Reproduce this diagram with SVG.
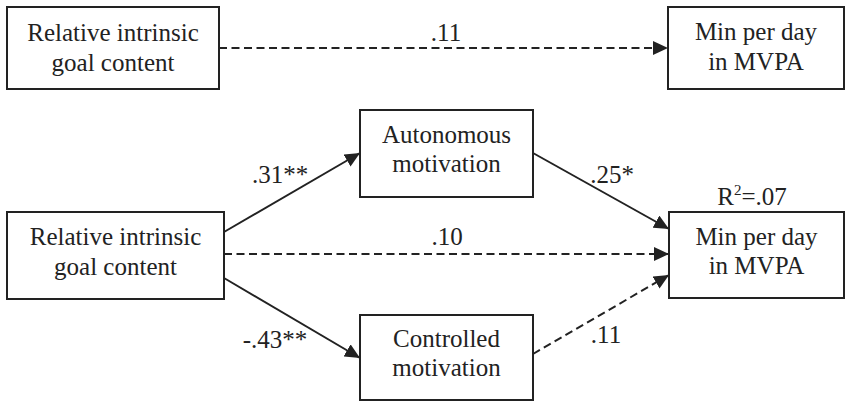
<svg xmlns="http://www.w3.org/2000/svg" width="846" height="402" viewBox="0 0 846 402">
<defs>
<marker id="ah" markerUnits="userSpaceOnUse" markerWidth="15" markerHeight="14" refX="15" refY="7" orient="auto">
<path d="M0,0 L15,7 L0,14 z" fill="#222"/>
</marker>
</defs>
<rect width="846" height="402" fill="#fff"/>
<g id="connectors" stroke="#222" stroke-width="2" fill="none" marker-end="url(#ah)">
<line stroke-dasharray="8 4.5" x1="219" y1="48" x2="668" y2="48"/>
<line x1="224" y1="232" x2="360" y2="153"/>
<line x1="224" y1="278" x2="360" y2="358"/>
<line stroke-dasharray="8 4.5" x1="224" y1="254" x2="669" y2="254"/>
<line x1="533" y1="153" x2="669" y2="229"/>
<line stroke-dasharray="8 4.5" x1="533" y1="354" x2="669" y2="275"/>
</g>
<g id="labels">
<text style="font-family:'Liberation Serif',serif;font-size:25px" fill="#222" text-anchor="middle" x="446" y="41">.11</text>
<text style="font-family:'Liberation Serif',serif;font-size:25px" fill="#222" text-anchor="middle" x="280" y="183">.31**</text>
<text style="font-family:'Liberation Serif',serif;font-size:25px" fill="#222" text-anchor="middle" x="275" y="348">-.43**</text>
<text style="font-family:'Liberation Serif',serif;font-size:25px" fill="#222" text-anchor="middle" x="447" y="245">.10</text>
<text style="font-family:'Liberation Serif',serif;font-size:25px" fill="#222" text-anchor="middle" x="612" y="183">.25*</text>
<text style="font-family:'Liberation Serif',serif;font-size:25px" fill="#222" text-anchor="middle" x="606" y="343">.11</text>
<text style="font-family:'Liberation Serif',serif;font-size:25px" fill="#222" text-anchor="middle" x="752" y="205">R<tspan style="font-size:15px" dy="-10">2</tspan><tspan dy="10">=.07</tspan></text>
</g>
<g id="top-predictor">
<rect fill="#fff" stroke="#222" stroke-width="2" x="7" y="7" width="212" height="82"/>
<text style="font-family:'Liberation Serif',serif;font-size:25px" fill="#222" text-anchor="middle" x="113" y="41">Relative intrinsic</text>
<text style="font-family:'Liberation Serif',serif;font-size:25px" fill="#222" text-anchor="middle" x="113" y="71">goal content</text>
</g>
<g id="top-outcome">
<rect fill="#fff" stroke="#222" stroke-width="2" x="668" y="7" width="176" height="82"/>
<text style="font-family:'Liberation Serif',serif;font-size:25px" fill="#222" text-anchor="middle" x="756" y="40">Min per day</text>
<text style="font-family:'Liberation Serif',serif;font-size:25px" fill="#222" text-anchor="middle" x="756" y="70">in MVPA</text>
</g>
<g id="predictor">
<rect fill="#fff" stroke="#222" stroke-width="2" x="7" y="212" width="217" height="87"/>
<text style="font-family:'Liberation Serif',serif;font-size:25px" fill="#222" text-anchor="middle" x="115.5" y="245">Relative intrinsic</text>
<text style="font-family:'Liberation Serif',serif;font-size:25px" fill="#222" text-anchor="middle" x="115.5" y="275">goal content</text>
</g>
<g id="autonomous">
<rect fill="#fff" stroke="#222" stroke-width="2" x="360" y="110" width="173" height="87"/>
<text style="font-family:'Liberation Serif',serif;font-size:25px" fill="#222" text-anchor="middle" x="446.5" y="143">Autonomous</text>
<text style="font-family:'Liberation Serif',serif;font-size:25px" fill="#222" text-anchor="middle" x="446.5" y="172">motivation</text>
</g>
<g id="controlled">
<rect fill="#fff" stroke="#222" stroke-width="2" x="360" y="315" width="173" height="85"/>
<text style="font-family:'Liberation Serif',serif;font-size:25px" fill="#222" text-anchor="middle" x="446.5" y="347">Controlled</text>
<text style="font-family:'Liberation Serif',serif;font-size:25px" fill="#222" text-anchor="middle" x="446.5" y="376">motivation</text>
</g>
<g id="outcome">
<rect fill="#fff" stroke="#222" stroke-width="2" x="669" y="212" width="175" height="86"/>
<text style="font-family:'Liberation Serif',serif;font-size:25px" fill="#222" text-anchor="middle" x="756.5" y="245">Min per day</text>
<text style="font-family:'Liberation Serif',serif;font-size:25px" fill="#222" text-anchor="middle" x="756.5" y="274">in MVPA</text>
</g>
</svg>
